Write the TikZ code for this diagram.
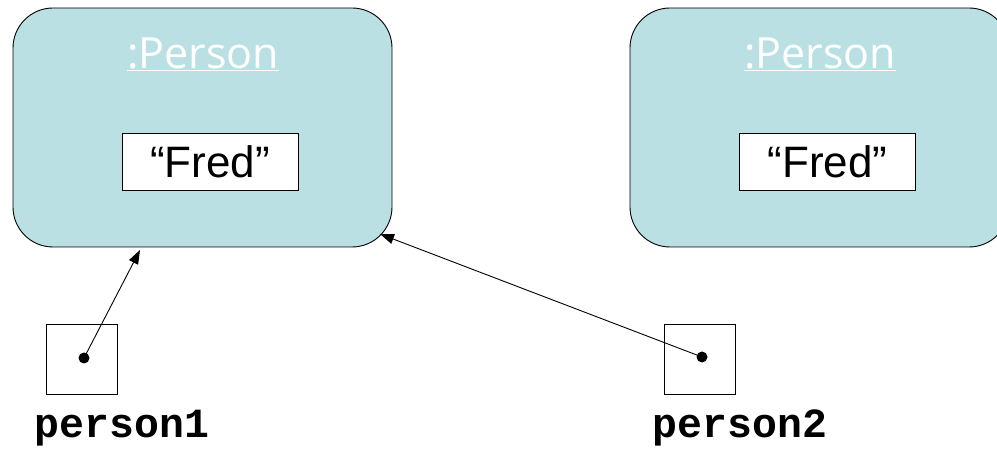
\documentclass[tikz,border=0pt]{standalone}
\usepackage{fontspec}
\setmainfont{Open Sans}
\newfontfamily\valfont{Liberation Sans}
\newfontfamily\codefont{Liberation Mono}
\usetikzlibrary{arrows.meta}
\definecolor{objfill}{HTML}{BAE0E3}
\tikzset{
  objbox/.style={draw=black, line width=0.9pt, fill=objfill, rounded corners=40pt,
    minimum width=379pt, minimum height=239pt, inner sep=0pt},
  objtitle/.style={text=white, font=\fontsize{43}{48}\selectfont, inner sep=0pt},
  valbox/.style={draw=black, line width=0.9pt, fill=white, minimum width=176pt,
    minimum height=57pt, inner sep=0pt, font=\valfont\fontsize{44}{48}\selectfont},
  refbox/.style={draw=black, line width=0.7pt, minimum width=71pt, minimum height=70pt, inner sep=0pt},
  refdot/.style={circle, fill=black, minimum width=11pt, inner sep=0pt},
  varname/.style={font=\codefont\bfseries\fontsize{41.5}{46}\selectfont, inner sep=0pt},
  ptr/.style={line width=0.9pt, -{Triangle[length=14pt,width=10pt]}}
}
\begin{document}
\begin{tikzpicture}[x=1pt,y=-1pt]
\useasboundingbox (0,0) rectangle (997,449);
\begin{scope}
\clip (0,0) rectangle (997,449);
% two Person objects
\node[objbox] (obj1) at (202.5,127.5) {};
\node[objbox] (obj2) at (819.5,127.5) {};
\end{scope}
\node[objtitle] (t1) at (203,54) {\underline{:Person}};
\node[objtitle] (t2) at (820,54) {\underline{:Person}};
\node[valbox] (v1) at (210,161.5) {“Fred”};
\node[valbox] (v2) at (827.5,161.5) {“Fred”};
% reference variables
\node[refbox] (r1) at (81.5,359) {};
\node[refbox] (r2) at (700,359) {};
\node[refdot] (d1) at (84,358) {};
\node[refdot] (d2) at (702,357) {};
\node[varname] (n1) at (122,428) {person1};
\node[varname] (n2) at (740,428) {person2};
% arrow targets on the first object
\coordinate (a1) at (140,250);
\coordinate (a2) at (380,234);
\draw[ptr] (d1.center) -- (a1);
\draw[ptr] (d2.center) -- (a2);
\end{tikzpicture}
\end{document}
